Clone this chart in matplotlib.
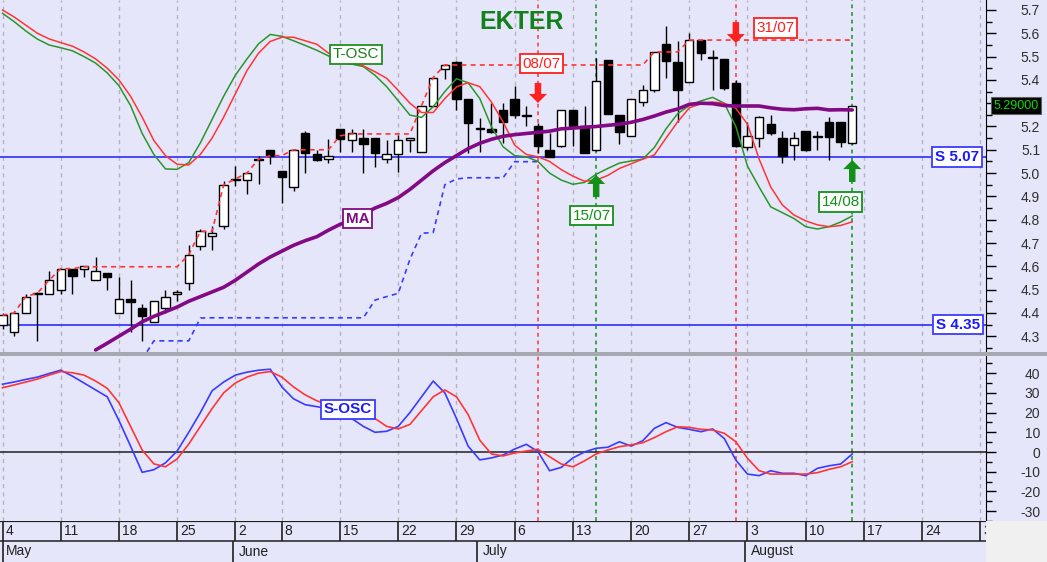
import matplotlib
matplotlib.use("Agg")
import matplotlib.pyplot as plt
import matplotlib.transforms as mtransforms
from matplotlib.patches import Rectangle
import numpy as np

plt.rcParams['font.family'] = ['Liberation Sans', 'DejaVu Sans']

# ---- daily candles (trading day index 0 = 4 May) ----
opens = [4.35, 4.32, 4.40, 4.48, 4.48, 4.50, 4.59, 4.59, 4.54, 4.57,
         4.40, 4.46, 4.42, 4.36, 4.42, 4.48, 4.53, 4.685, 4.73, 4.775,
         4.97, 4.97, 5.055, 5.10, 5.01, 4.94, 5.17, 5.08, 5.06, 5.19,
         5.14, 5.15, 5.15, 5.06, 5.08, 5.14, 5.09, 5.29, 5.445, 5.475,
         5.32, 5.19, 5.19, 5.27, 5.32, 5.25, 5.20, 5.10, 5.115, 5.27,
         5.20, 5.10, 5.485, 5.25, 5.16, 5.305, 5.355, 5.555, 5.475, 5.39,
         5.57, 5.50, 5.49, 5.385, 5.11, 5.15, 5.21, 5.15, 5.12, 5.18,
         5.155, 5.22, 5.22, 5.13]
highs = [4.40, 4.41, 4.48, 4.49, 4.58, 4.59, 4.59, 4.60, 4.64, 4.57,
         4.555, 4.54, 4.44, 4.45, 4.50, 4.50, 4.69, 4.76, 4.775, 4.965,
         5.03, 5.00, 5.075, 5.10, 5.01, 5.10, 5.18, 5.10, 5.145, 5.19,
         5.19, 5.19, 5.15, 5.14, 5.165, 5.15, 5.29, 5.41, 5.47, 5.48,
         5.32, 5.235, 5.30, 5.30, 5.375, 5.29, 5.215, 5.17, 5.27, 5.27,
         5.29, 5.495, 5.485, 5.25, 5.32, 5.38, 5.52, 5.63, 5.565, 5.60,
         5.57, 5.53, 5.49, 5.40, 5.22, 5.245, 5.25, 5.18, 5.175, 5.18,
         5.18, 5.24, 5.22, 5.29]
lows = [4.33, 4.30, 4.40, 4.28, 4.48, 4.48, 4.48, 4.555, 4.54, 4.50,
        4.40, 4.32, 4.28, 4.36, 4.40, 4.45, 4.50, 4.67, 4.67, 4.76,
        4.945, 4.91, 4.955, 5.04, 4.87, 4.925, 5.00, 5.05, 5.045, 5.09,
        5.09, 5.00, 5.025, 5.045, 5.005, 5.09, 5.09, 5.29, 5.405, 5.27,
        5.085, 5.09, 5.17, 5.13, 5.235, 5.20, 5.085, 5.07, 5.11, 5.115,
        5.085, 5.095, 5.255, 5.125, 5.16, 5.29, 5.35, 5.41, 5.22, 5.39,
        5.485, 5.355, 5.355, 5.11, 5.10, 5.11, 5.165, 5.045, 5.055, 5.095,
        5.10, 5.055, 5.11, 5.125]
closes = [4.39, 4.40, 4.47, 4.485, 4.54, 4.59, 4.56, 4.60, 4.58, 4.555,
          4.46, 4.445, 4.385, 4.45, 4.47, 4.49, 4.65, 4.75, 4.745, 4.95,
          4.975, 5.00, 5.06, 5.075, 4.985, 5.10, 5.085, 5.055, 5.075, 5.145,
          5.17, 5.125, 5.085, 5.08, 5.14, 5.15, 5.29, 5.41, 5.465, 5.32,
          5.215, 5.195, 5.175, 5.22, 5.25, 5.245, 5.115, 5.07, 5.27, 5.20,
          5.085, 5.395, 5.255, 5.175, 5.32, 5.357, 5.52, 5.48, 5.355, 5.57,
          5.515, 5.495, 5.365, 5.115, 5.16, 5.24, 5.17, 5.075, 5.15, 5.10,
          5.16, 5.155, 5.135, 5.29]

nan = np.nan
ma = [nan] * 8 + [
    4.241, 4.27, 4.30, 4.33, 4.362, 4.385, 4.405, 4.425, 4.45, 4.47,
    4.49, 4.51, 4.54, 4.575, 4.61, 4.64, 4.665, 4.69, 4.71, 4.727,
    4.755, 4.78, 4.80, 4.825, 4.85, 4.87, 4.895, 4.93, 4.97, 5.01,
    5.045, 5.075, 5.105, 5.128, 5.145, 5.158, 5.165, 5.17, 5.175, 5.18,
    5.19, 5.193, 5.197, 5.20, 5.205, 5.21, 5.218, 5.23, 5.245, 5.262,
    5.275, 5.295, 5.30, 5.298, 5.29, 5.288, 5.288, 5.288, 5.28, 5.274,
    5.272, 5.276, 5.278, 5.271, 5.272, 5.271]

# T-OSC drawn on the price scale
tosc_green = [5.686, 5.65, 5.61, 5.575, 5.55, 5.538, 5.525, 5.50, 5.472, 5.43,
              5.375, 5.29, 5.17, 5.08, 5.018, 5.016, 5.045, 5.13, 5.23, 5.33,
              5.42, 5.49, 5.555, 5.595, 5.587, 5.568, 5.548, 5.527, 5.503, 5.474,
              5.468, 5.457, 5.42, 5.371, 5.31, 5.249, 5.239, 5.285, 5.35, 5.405,
              5.388, 5.32, 5.20, 5.113, 5.075, 5.07, 5.05, 5.00, 4.97, 4.952,
              4.96, 4.995, 5.02, 5.043, 5.052, 5.06, 5.11, 5.19, 5.255, 5.29,
              5.31, 5.325, 5.30, 5.20, 5.03, 4.94, 4.855, 4.83, 4.805, 4.77,
              4.76, 4.77, 4.79, 4.816]
tosc_red = [5.70, 5.67, 5.635, 5.60, 5.576, 5.56, 5.545, 5.52, 5.49, 5.45,
            5.40, 5.33, 5.24, 5.14, 5.075, 5.038, 5.035, 5.08, 5.15, 5.24,
            5.34, 5.44, 5.515, 5.565, 5.583, 5.583, 5.568, 5.553, 5.515, 5.49,
            5.475, 5.46, 5.435, 5.407, 5.355, 5.30, 5.26, 5.26, 5.32, 5.37,
            5.388, 5.371, 5.305, 5.22, 5.12, 5.08, 5.07, 5.05, 5.015, 4.987,
            4.965, 4.97, 4.99, 5.02, 5.04, 5.06, 5.078, 5.15, 5.22, 5.28,
            5.298, 5.305, 5.30, 5.278, 5.21, 5.06, 4.94, 4.863, 4.82, 4.795,
            4.778, 4.77, 4.775, 4.791]

sosc_blue = [34.4, 35.5, 36.8, 38, 39.8, 41.5, 38.5, 35, 31.5, 28,
             16, 3, -10.3, -9, -5.5, 0.5, 10, 20, 31, 35.5,
             39, 40.5, 41.5, 42, 33, 27, 24, 23, 22, 20,
             17, 13, 10, 10.5, 13, 20, 28, 36, 30, 17,
             3, -4, -3, -1.5, 1.5, 3.9, 0.2, -9.5, -7.8, -3,
             0, 1.9, 2.4, 5.2, 3, 5.7, 12, 14.9, 12.5, 11.5,
             10.3, 11.7, 6.9, -4.1, -11.2, -12, -9.5, -10.8, -10.8, -12,
             -8.3, -7, -6.1, -1]
sosc_red = [32.6, 34, 35.5, 37, 39, 40.8, 40.2, 39, 36, 32.3,
            25, 13, 1, -6, -7.5, -3.5, 4, 13, 22, 30,
            35, 38, 40, 40.8, 38, 33, 29, 26, 24, 22,
            20, 18, 17, 13, 11.7, 14, 21, 28, 31.5, 28,
            19, 6, -1, -2, -0.5, 0.5, 1.4, -2.4, -6.1, -7.5,
            -4.5, -1, 1, 2.7, 3.6, 4.7, 7.3, 10.3, 12.8, 12.5,
            11.5, 11.2, 9.5, 5.2, -3.2, -9.5, -11.2, -11.2, -11.2, -11.2,
            -10.5, -8.8, -7.5, -4.9]

resist_line = [4.39, 4.40, 4.47, 4.485, 4.54, 4.59, 4.59, 4.598, 4.598, 4.598,
               4.598, 4.598, 4.598, 4.598, 4.598, 4.598, 4.65, 4.75, 4.75, 4.95,
               4.975, 5.00, 5.06, 5.075, 5.075, 5.10, 5.10, 5.10, 5.10, 5.16,
               5.168, 5.168, 5.168, 5.168, 5.168, 5.168, 5.29, 5.41, 5.464, 5.464,
               5.464, 5.464, 5.464, 5.464, 5.464, 5.464, 5.464, 5.464, 5.464, 5.464,
               5.464, 5.464, 5.464, 5.464, 5.464, 5.464, 5.52, 5.52, 5.52, 5.571,
               5.571, 5.571, 5.571, 5.571, 5.571, 5.571, 5.571, 5.571, 5.571, 5.571,
               5.571, 5.571, 5.571, 5.571]
trail_stop = [nan] * 12 + [
    4.20, 4.28, 4.28, 4.28, 4.28, 4.378, 4.379, 4.379, 4.379, 4.379,
    4.379, 4.379, 4.379, 4.379, 4.379, 4.379, 4.379, 4.379, 4.379, 4.379,
    4.455, 4.47, 4.484, 4.63, 4.742, 4.745, 4.95, 4.975, 4.98, 4.98,
    4.98, 4.98, 5.049, 5.049, 5.049]

support_levels = [5.07, 4.35]
last_price = 5.29

signal_dates = ['08/07', '15/07', '31/07', '14/08']
signal_idx = [46, 51, 63, 73]
signal_type = ['sell', 'buy', 'sell', 'buy']

tick_idx = [0, 5, 10, 15, 20, 24, 29, 34, 39, 44, 49, 54, 59, 64, 69, 74, 79, 84]
tick_days = ['4', '11', '18', '25', '2', '8', '15', '22', '29', '6', '13', '20',
             '27', '3', '10', '17', '24', '31']
month_idx = [0, 20, 41, 64]
month_names = ['May', 'June', 'July', 'August']

# ---- look ----
BG = '#e6e6fa'
RED = '#ff3535'
GREEN_SIG = '#13901a'
BLUE = '#3b3bff'
W, H = 1047, 562
PR = 986  # right edge of plotting area, px

fig = plt.figure(figsize=(W / 100, H / 100), dpi=100, facecolor=BG)


def px_axes(x0, y0, x1, y1):
    return fig.add_axes([x0 / W, 1 - y1 / H, (x1 - x0) / W, (y1 - y0) / H])


ax = px_axes(0, 0, PR, 352)
ax2 = px_axes(0, 356, PR, 521)
axd = px_axes(0, 521, PR, 562)

xlim = (-0.215, 84.49)
for a in (ax, ax2, axd):
    a.set_facecolor(BG)
    a.set_xlim(*xlim)
    a.set_xticks([])
    for s in ('left', 'top', 'bottom'):
        a.spines[s].set_visible(False)

ax.set_ylim(4.2322, 5.7429)
ax2.set_ylim(-35.0, 48.7)

# separators / corners
fig.patches.append(Rectangle((0, 1 - 356 / H), 1, 4 / H, transform=fig.transFigure,
                             fc='#a8a8b0', ec='none'))
fig.patches.append(Rectangle((PR / W, 0), 1 - PR / W, 41 / H, transform=fig.transFigure,
                             fc='#f0f0f0', ec='none'))

# right axes; the last-price box sits where the 5.3 label would be
price_ticks = np.arange(4.3, 5.75, 0.1)
price_labels = ['' if abs(v - last_price) < 0.05 else '{:.1f}'.format(v) for v in price_ticks]
osc_ticks = np.arange(-30, 41, 10)
for a, major, minor, labels in ((ax, price_ticks, np.arange(4.25, 5.75, 0.05), price_labels),
                                (ax2, osc_ticks, np.arange(-35, 46, 5),
                                 ['{:.0f}'.format(v) for v in osc_ticks])):
    a.yaxis.tick_right()
    a.set_yticks(major)
    a.set_yticks(minor, minor=True)
    a.set_yticklabels(labels)
    a.tick_params(axis='y', which='major', length=7, width=1, direction='out',
                  pad=32, labelsize=10, labelcolor='#303030')
    a.tick_params(axis='y', which='minor', length=4, width=1, direction='out')
    for lab in a.get_yticklabels():
        lab.set_horizontalalignment('right')
    a.spines['right'].set_color('black')

# weekly grid and signal verticals
for a in (ax, ax2):
    a.vlines(tick_idx, 0, 1, transform=a.get_xaxis_transform(), color='#b4b4c0',
             lw=1, ls=(0, (3, 3)), zorder=1)
    for i, kind in zip(signal_idx, signal_type):
        a.axvline(i, color=RED if kind == 'sell' else GREEN_SIG, lw=1.1,
                  ls=(0, (2.5, 2.5)), zorder=2)

# support levels
for lvl in support_levels:
    ax.axhline(lvl, color=BLUE, lw=1.3, zorder=2)

# candles
idx = np.arange(len(closes))
o = np.array(opens)
c = np.array(closes)
up = c >= o
ax.vlines(idx, lows, highs, color='black', lw=1, zorder=3)
ax.bar(idx, np.maximum(np.abs(c - o), 0.004), bottom=np.minimum(o, c), width=0.72,
       color=np.where(up, 'white', 'black'), edgecolor='black', lw=1, zorder=4)

# indicator lines
ax.plot(idx, resist_line, color=RED, lw=1.2, ls=(0, (3, 2.5)), zorder=5)
ax.plot(idx[:len(trail_stop)], trail_stop, color=BLUE, lw=1.2, ls=(0, (3, 2.5)), zorder=5)
ax.plot(idx, tosc_green, color='#2a962a', lw=1.1, zorder=6)
ax.plot(idx, tosc_red, color=RED, lw=1.1, zorder=6)
ax.plot(idx, ma, color='#820a84', lw=2.6, zorder=7, solid_capstyle='round')

ax2.axhline(0, color='#202020', lw=1.1, zorder=2)
ax2.plot(idx, sosc_blue, color=BLUE, lw=1.2, zorder=5)
ax2.plot(idx, sosc_red, color=RED, lw=1.2, zorder=5)


def boxed(a, x, y, s, col, tcol=None, bold=False, size=11, fc='white', **kw):
    a.text(x, y, s, color=tcol or col, fontsize=size, ha='center', va='center',
           fontweight='bold' if bold else 'normal', zorder=10,
           bbox=dict(boxstyle='square,pad=0.18', fc=fc, ec=col, lw=1.3), **kw)


# signal arrows and labels
label_pos = {'08/07': (46.3, 5.470), '15/07': (50.6, 4.818),
             '31/07': (66.4, 5.623), '14/08': (72.0, 4.876)}
arrow_span = {'08/07': (5.387, 5.301), '15/07': (4.897, 4.992),
              '31/07': (5.648, 5.558), '14/08': (4.962, 5.056)}
for d, i, kind in zip(signal_dates, signal_idx, signal_type):
    col = '#ff2020' if kind == 'sell' else GREEN_SIG
    tail, tip = arrow_span[d]
    ax.annotate('', xy=(i, tip), xytext=(i, tail), zorder=9,
                arrowprops=dict(arrowstyle='simple,head_length=0.5,head_width=1.0,tail_width=0.36',
                                fc=col, ec=col, lw=0, shrinkA=0, shrinkB=0, mutation_scale=13))
    lx, ly = label_pos[d]
    boxed(ax, lx, ly, d, col)

boxed(ax, 30.4, 5.509, 'T-OSC', '#1f8f1f', tcol='#1a801a')
boxed(ax, 30.5, 4.805, 'MA', '#820a84', bold=True)
boxed(ax2, 29.7, 21.6, 'S-OSC', BLUE, tcol='#1a1aff', bold=True)
boxed(ax, 82.0, support_levels[0], 'S {:.2f}'.format(support_levels[0]), BLUE, tcol='#1a1aff', bold=True)
boxed(ax, 82.1, support_levels[1], 'S {:.2f}'.format(support_levels[1]), BLUE, tcol='#1a1aff', bold=True)

ax.text(1.0 + 30 / PR, last_price, '{:.5f}'.format(last_price), transform=ax.get_yaxis_transform(),
        color='#00e000', fontsize=9, ha='center', va='center', zorder=12, clip_on=False,
        bbox=dict(boxstyle='square,pad=0.2', fc='black', ec='#606060', lw=0.8))

fig.text(522 / W, 1 - 22 / H, 'EKTER', color='#12801c', fontsize=18, fontweight='bold',
         ha='center', va='center')

# date strip
axd.set_ylim(0, 1)
axd.set_yticks([])
axd.spines['right'].set_visible(False)
mid = 21 / 41
axd.axhline(1, color='#202020', lw=1.6)
axd.axhline(mid, color='#202020', lw=1.1)
axd.vlines(tick_idx, mid, 1, color='#202020', lw=1.2)
axd.vlines([m - 0.2 if m else m for m in month_idx], 0, mid, color='#202020', lw=1.2)
tr = mtransforms.offset_copy(axd.get_xaxis_transform(), fig=fig, x=3, y=0, units='dots')
for i, d in zip(tick_idx, tick_days):
    axd.text(i, (1 + mid) / 2, d, transform=tr, fontsize=10, ha='left', va='center',
             color='#202020', clip_on=True)
for i, m in zip(month_idx, month_names):
    axd.text(i, mid / 2, m, transform=tr, fontsize=10, ha='left', va='center',
             color='#202020', clip_on=True)

fig.savefig('out.png', dpi=100, facecolor=BG)
